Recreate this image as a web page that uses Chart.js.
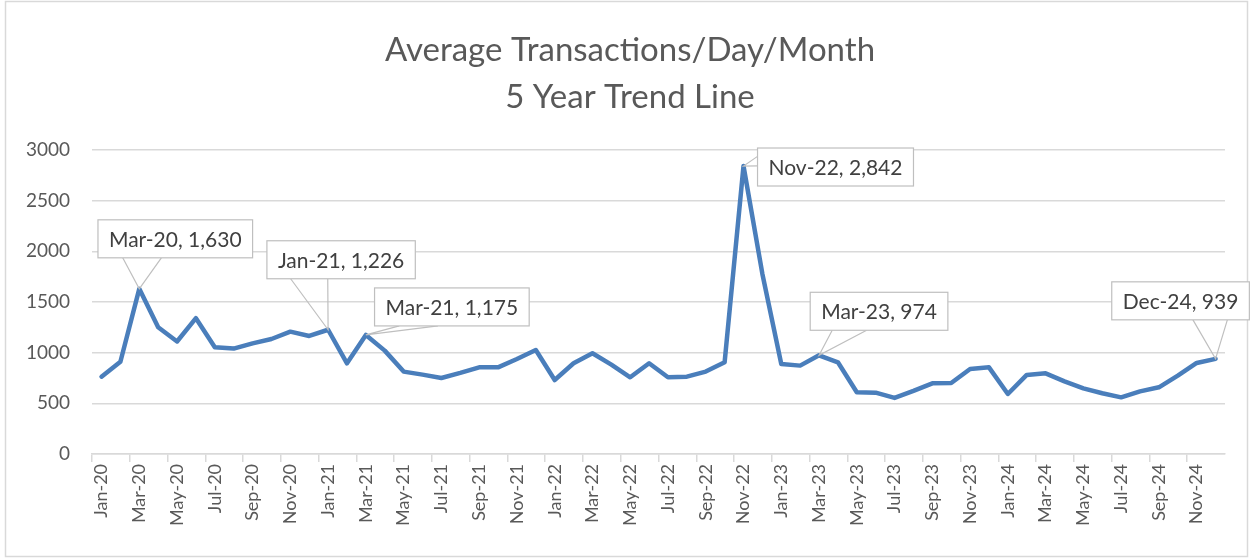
<!DOCTYPE html>
<html>
<head>
<meta charset="utf-8">
<script src="https://cdn.jsdelivr.net/npm/chart.js@4.4.1/dist/chart.umd.min.js"></script>
<style>
  html, body { margin: 0; padding: 0; background: #fff; }
  #wrap { width: 1252px; height: 558px; position: relative; }
</style>
</head>
<body>
<div id="wrap"><canvas id="line-chart" width="1252" height="558"></canvas></div>
<script>
// monthly categories Jan-20 .. Dec-24
var monthNames = ["Jan", "Feb", "Mar", "Apr", "May", "Jun", "Jul", "Aug", "Sep", "Oct", "Nov", "Dec"];
var years = ["20", "21", "22", "23", "24"];

var avg2020 = [763, 910, 1630, 1250, 1110, 1340, 1053, 1040, 1092, 1135, 1207, 1165];
var avg2021 = [1226, 895, 1175, 1020, 813, 783, 750, 800, 855, 855, 938, 1026];
var avg2022 = [730, 895, 994, 882, 757, 895, 757, 763, 813, 905, 2842, 1777];
var avg2023 = [888, 872, 974, 905, 609, 605, 553, 622, 697, 700, 839, 855];
var avg2024 = [592, 780, 796, 717, 648, 599, 559, 618, 658, 773, 898, 939];

var yTicks = [0, 500, 1000, 1500, 2000, 2500, 3000];

var titleLines = ["Average Transactions/Day/Month", "5 Year Trend Line"];

// months that carry a data callout
var calloutMonths = ["Mar-20", "Jan-21", "Mar-21", "Nov-22", "Mar-23", "Dec-24"];

var labels = [];
years.forEach(function (y) {
    monthNames.forEach(function (m) { labels.push(m + "-" + y); });
});
var values = avg2020.concat(avg2021, avg2022, avg2023, avg2024);

var txtColor = "#595959";
var gridColor = "#d9d9d9";

// box offsets (from the point) for each callout, in the same order as calloutMonths
var calloutOffsets = [
    { dx: 36, dy: -50 },
    { dx: 13, dy: -70 },
    { dx: 86, dy: -28 },
    { dx: 92, dy: 1 },
    { dx: 60, dy: -44 },
    { dx: -35, dy: -58 }
];

function fmt(v) {
    return v.toString().replace(/\B(?=(\d{3})+(?!\d))/g, ",");
}

// white background, outer border and the two-line title (centred on the frame)
var frame = {
    id: "frame",
    beforeDraw: function (chart) {
        var c = chart.ctx;
        c.save();
        c.fillStyle = "#fff";
        c.fillRect(0, 0, chart.width, chart.height);
        c.strokeStyle = gridColor;
        c.lineWidth = 1.5;
        c.strokeRect(5.5, 1.5, 1242, 555);
        c.fillStyle = txtColor;
        c.font = "33px Lato";
        c.textAlign = "center";
        c.textBaseline = "middle";
        c.fillText(titleLines[0], 630, 50);
        c.fillText(titleLines[1], 630, 97);
        c.restore();
    }
};

var callouts = {
    id: "callouts",
    afterDatasetsDraw: function (chart) {
        var c = chart.ctx;
        var meta = chart.getDatasetMeta(0);
        c.save();
        c.font = "21px Lato";
        c.textAlign = "center";
        c.textBaseline = "middle";
        calloutMonths.forEach(function (m, k) {
            var i = labels.indexOf(m);
            var pt = meta.data[i];
            var text = m + ", " + fmt(values[i]);
            var w = c.measureText(text).width + 22;
            var h = 38;
            var cx = pt.x + calloutOffsets[k].dx;
            var cy = pt.y + calloutOffsets[k].dy;
            var l = cx - w / 2, t = cy - h / 2;
            var a, b;
            if (pt.y > t + h) {
                // wedge off the bottom edge
                if (pt.x <= cx) {
                    a = [l + w * 0.16, t + h]; b = [l + w * 0.41, t + h];
                } else {
                    a = [l + w * 0.59, t + h]; b = [l + w * 0.84, t + h];
                }
            } else {
                // wedge off the left edge
                a = [l, t + h * 0.22]; b = [l, t + h * 0.47];
            }
            c.strokeStyle = "#bfbfbf";
            c.lineWidth = 1.2;
            c.beginPath();
            c.moveTo(a[0], a[1]);
            c.lineTo(pt.x, pt.y);
            c.lineTo(b[0], b[1]);
            c.stroke();
            c.fillStyle = "#fff";
            c.fillRect(l, t, w, h);
            c.strokeRect(l, t, w, h);
            c.fillStyle = "#404040";
            c.fillText(text, cx, cy + 1);
        });
        c.restore();
    }
};

var ctx = document.getElementById("line-chart");

var data = {
    labels: labels,
    datasets: [
        {
            label: "Average Transactions/Day",
            data: values,
            fill: false,
            borderColor: "#4a7ebb",
            borderWidth: 4.5,
            pointRadius: 0,
            lineTension: 0,
            borderJoinStyle: "round",
            borderCapStyle: "round"
        }
    ]
};

var options = {
    responsive: false,
    animation: false,
    layout: {
        padding: { left: 4, right: 27, top: 150, bottom: 30 }
    },
    plugins: {
        legend: { display: false },
        tooltip: { enabled: false },
        title: { display: false }
    },
    scales: {
        x: {
            offset: true,
            grid: {
                offset: true,
                drawOnChartArea: false,
                drawTicks: true,
                tickLength: 8,
                color: function (c) { return c.index % 2 === 0 ? gridColor : "rgba(0,0,0,0)"; },
                lineWidth: 1.5
            },
            border: { display: true, color: gridColor, width: 1.5 },
            ticks: {
                autoSkip: false,
                maxRotation: 90,
                minRotation: 90,
                color: txtColor,
                font: { family: "Lato", size: 18 },
                padding: 2,
                callback: function (v, i) { return i % 2 === 0 ? labels[i] : ""; }
            }
        },
        y: {
            min: yTicks[0],
            max: yTicks[yTicks.length - 1],
            afterBuildTicks: function (axis) {
                axis.ticks = yTicks.map(function (v) { return { value: v }; });
            },
            grid: { color: gridColor, lineWidth: 1.5, drawTicks: false },
            border: { display: false },
            ticks: {
                color: txtColor,
                font: { family: "Lato", size: 19 },
                padding: 22,
                callback: function (v) { return String(v); }
            }
        }
    }
};

new Chart(ctx, {
    type: "line",
    data: data,
    options: options,
    plugins: [frame, callouts]
});
</script>
</body>
</html>
